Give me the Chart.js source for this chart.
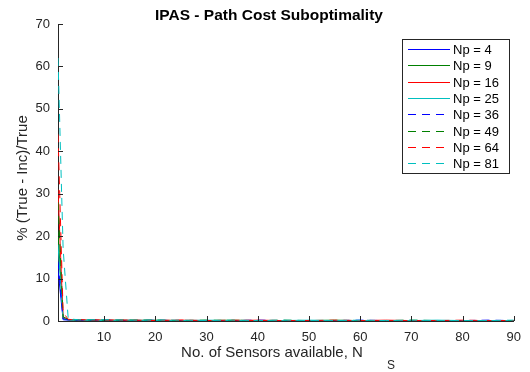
<!DOCTYPE html>
<html>
<head>
<meta charset="utf-8">
<script src="https://cdn.jsdelivr.net/npm/chart.js@4"></script>
<style>
  html, body { margin: 0; padding: 0; background: #fff; }
  #c { display: block; }
</style>
</head>
<body>
<canvas id="c" width="530" height="372"></canvas>
<script>
// ---- data ----
const chartTitle = "IPAS - Path Cost Suboptimality";
const xLabel = "No. of Sensors available, N";
const xLabelSub = "S";
const yLabel = "% (True - Inc)/True";
const xTicks = [10, 20, 30, 40, 50, 60, 70, 80, 90];
const yTicks = [0, 10, 20, 30, 40, 50, 60, 70];
const seriesNames = ["Np = 4", "Np = 9", "Np = 16", "Np = 25", "Np = 36", "Np = 49", "Np = 64", "Np = 81"];
const xs = [1, 2, 3, 4, 5, 10, 15, 20, 25, 30, 35, 40, 45, 50, 55, 60, 65, 70, 75, 80, 85, 90];
const np4  = [12, 0.3, 0.2, 0.2, 0.1, 0.1, 0.1, 0.1, 0.1, 0.1, 0.1, 0.1, 0.1, 0.1, 0.1, 0.1, 0.1, 0.1, 0.1, 0.1, 0.1, 0.1];
const np9  = [21, 0.5, 0.3, 0.2, 0.2, 0.2, 0.1, 0.2, 0.1, 0.1, 0.2, 0.1, 0.1, 0.1, 0.2, 0.1, 0.1, 0.1, 0.1, 0.1, 0.1, 0.1];
const np16 = [31, 0.6, 0.3, 0.3, 0.2, 0.2, 0.2, 0.1, 0.2, 0.1, 0.1, 0.2, 0.1, 0.1, 0.1, 0.1, 0.2, 0.1, 0.1, 0.1, 0.1, 0.1];
const np25 = [18, 0.4, 0.3, 0.2, 0.2, 0.1, 0.2, 0.1, 0.1, 0.2, 0.1, 0.1, 0.1, 0.2, 0.1, 0.1, 0.1, 0.1, 0.2, 0.1, 0.1, 0.1];
const np36 = [14, 0.5, 0.3, 0.2, 0.2, 0.2, 0.1, 0.2, 0.1, 0.1, 0.1, 0.2, 0.1, 0.1, 0.1, 0.2, 0.1, 0.1, 0.1, 0.1, 0.2, 0.1];
const np49 = [28, 1.0, 0.4, 0.3, 0.3, 0.2, 0.2, 0.2, 0.1, 0.2, 0.1, 0.1, 0.2, 0.1, 0.1, 0.1, 0.1, 0.2, 0.1, 0.1, 0.1, 0.1];
const np64 = [44, 2.0, 0.4, 0.3, 0.3, 0.2, 0.2, 0.1, 0.2, 0.1, 0.2, 0.1, 0.1, 0.1, 0.2, 0.1, 0.1, 0.1, 0.1, 0.2, 0.1, 0.1];
const np81 = [62, 17, 0.5, 0.4, 0.3, 0.3, 0.2, 0.2, 0.2, 0.1, 0.2, 0.1, 0.2, 0.1, 0.1, 0.2, 0.1, 0.2, 0.1, 0.1, 0.1, 0.2];
const seriesValues = [np4, np9, np16, np25, np36, np49, np64, np81];

// ---- styles ----
const colors = ["#0000ff", "#008000", "#ff0000", "#00bfbf", "#0000ff", "#008000", "#ff0000", "#00bfbf"];
const dashed = [false, false, false, false, true, true, true, true];
const DASH = [8, 6];
const FONT = "'Liberation Sans', Arial, Helvetica, sans-serif";
const AXIS_COLOR = "#262626";

const datasets = seriesNames.map((name, i) => ({
  label: name,
  data: xs.map((x, j) => ({ x: x, y: seriesValues[i][j] })),
  borderColor: colors[i],
  backgroundColor: colors[i],
  borderWidth: 1,
  borderDash: dashed[i] ? DASH : [],
  pointRadius: 0,
  fill: false,
  tension: 0,
  order: seriesNames.length - i
}));

const decor = {
  id: 'decor',
  afterDraw(chart) {
    const ctx = chart.ctx;
    const ca = chart.chartArea;
    const xs_ = chart.scales.x, ys_ = chart.scales.y;
    ctx.save();
    // inward tick marks
    ctx.strokeStyle = AXIS_COLOR;
    ctx.lineWidth = 1;
    ctx.setLineDash([]);
    ctx.beginPath();
    xTicks.forEach(v => {
      const px = Math.round(xs_.getPixelForValue(v)) + 0.5;
      ctx.moveTo(px, ca.bottom);
      ctx.lineTo(px, ca.bottom - 5);
    });
    yTicks.forEach(v => {
      const py = Math.round(ys_.getPixelForValue(v)) + 0.5;
      ctx.moveTo(ca.left, py);
      ctx.lineTo(ca.left + 5, py);
    });
    ctx.stroke();

    // title
    ctx.fillStyle = "#000";
    ctx.font = "bold 15.5px " + FONT;
    ctx.textAlign = "center";
    ctx.textBaseline = "alphabetic";
    ctx.fillText(chartTitle, 269, 20);

    // x label
    ctx.fillStyle = AXIS_COLOR;
    ctx.font = "15px " + FONT;
    ctx.textAlign = "center";
    ctx.fillText(xLabel, 272, 357);
    ctx.font = "12px " + FONT;
    ctx.textAlign = "left";
    ctx.fillText(xLabelSub, 387, 369);

    // y label
    ctx.save();
    ctx.translate(27, 178);
    ctx.rotate(-Math.PI / 2);
    ctx.font = "15px " + FONT;
    ctx.textAlign = "center";
    ctx.fillText(yLabel, 0, 0);
    ctx.restore();

    // legend
    const lx = 402.5, ly = 39.5, lw = 107, lh = 134;
    ctx.fillStyle = "#fff";
    ctx.fillRect(lx, ly, lw, lh);
    ctx.strokeStyle = AXIS_COLOR;
    ctx.lineWidth = 1;
    ctx.strokeRect(lx, ly, lw, lh);
    ctx.font = "13px " + FONT;
    ctx.textBaseline = "middle";
    ctx.textAlign = "left";
    chart.data.datasets.forEach((ds, i) => {
      const y = Math.round(49 + i * 16.3) + 0.5;
      ctx.strokeStyle = ds.borderColor;
      ctx.setLineDash(ds.borderDash || []);
      ctx.beginPath();
      ctx.moveTo(408, y);
      ctx.lineTo(450, y);
      ctx.stroke();
      ctx.setLineDash([]);
      ctx.fillStyle = "#000";
      ctx.fillText(ds.label, 453, y + 0.5);
    });
    ctx.restore();
  }
};

new Chart(document.getElementById('c'), {
  type: 'line',
  data: { datasets: datasets },
  options: {
    responsive: false,
    animation: false,
    events: [],
    layout: { padding: { top: 24, right: 13, left: 0, bottom: 0 } },
    plugins: { legend: { display: false }, title: { display: false }, tooltip: { enabled: false } },
    scales: {
      x: {
        type: 'linear',
        min: 1, max: 90,
        afterBuildTicks: s => { s.ticks = xTicks.map(v => ({ value: v })); },
        afterFit: s => { s.height = 51; },
        grid: { display: false, drawTicks: false },
        border: { display: true, color: AXIS_COLOR, width: 1 },
        ticks: { color: AXIS_COLOR, font: { family: FONT, size: 13 }, padding: 9, maxRotation: 0, autoSkip: false }
      },
      y: {
        type: 'linear',
        min: 0, max: 70,
        afterBuildTicks: s => { s.ticks = yTicks.map(v => ({ value: v })); },
        afterFit: s => { s.width = 58; },
        grid: { display: false, drawTicks: false },
        border: { display: true, color: AXIS_COLOR, width: 1 },
        ticks: { color: AXIS_COLOR, font: { family: FONT, size: 13 }, padding: 8 }
      }
    }
  },
  plugins: [decor]
});
</script>
</body>
</html>
